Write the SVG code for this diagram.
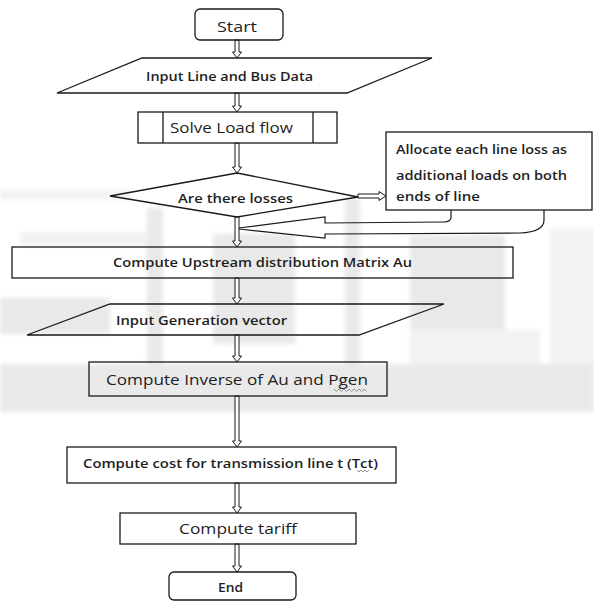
<svg xmlns="http://www.w3.org/2000/svg" width="594" height="602" viewBox="0 0 594 602">
<defs>
<filter id="soft" x="-5%" y="-5%" width="110%" height="110%"><feGaussianBlur stdDeviation="2"/></filter>
</defs>
<style>
.wm{fill:#e9e9e9}
.wm2{fill:#f2f2f2}
.sh{fill:none;stroke:#1a1a1a;stroke-width:1.3}
.shw{fill:#fff;stroke:#1a1a1a;stroke-width:1.3}
.ar{fill:#fff;stroke:#1a1a1a;stroke-width:1}
.ln{fill:none;stroke:#1a1a1a;stroke-width:1.2}
text{font-family:"Open Sans","Noto Sans","Liberation Sans",sans-serif;fill:#1e1e1e;font-weight:600}
.s12{font-size:12px}
.s14{font-size:14px;font-weight:500}
.sq{fill:none;stroke:#8a8a8a;stroke-width:0.9}
</style>
<rect width="594" height="602" fill="#fff"/>
<g id="watermark" filter="url(#soft)">
<rect class="wm2" x="0" y="190" width="130" height="10"/>
<rect class="wm2" x="20" y="232" width="130" height="14"/>
<rect class="wm" x="0" y="298" width="110" height="36"/>
<rect class="wm" x="147" y="208" width="16" height="200"/>
<rect class="wm" x="213" y="234" width="82" height="110"/>
<rect class="wm" x="345" y="198" width="15" height="200"/>
<rect class="wm" x="410" y="235" width="95" height="95"/>
<rect class="wm2" x="410" y="330" width="130" height="45"/>
<rect class="wm2" x="550" y="228" width="44" height="160"/>
<rect class="wm" x="0" y="364" width="594" height="48"/>
</g>
<g id="connectors">
<path class="ar" d="M235,40 V52 H232.5 L237,58 L241.5,52 H239 V40 Z"/>
<path class="ar" d="M235,93 V106 H232.5 L237,112 L241.5,106 H239 V93 Z"/>
<path class="ar" d="M235,143 V167 H232.5 L237,173 L241.5,167 H239 V143 Z"/>
<path class="ar" d="M235,217 V241 H232.5 L237,247 L241.5,241 H239 V217 Z"/>
<path class="ar" d="M235,278 V298 H232.5 L237,304 L241.5,298 H239 V278 Z"/>
<path class="ar" d="M235,335 V356 H232.5 L237,362 L241.5,356 H239 V335 Z"/>
<path class="ar" d="M235,396 V441 H232.5 L237,447 L241.5,441 H239 V396 Z"/>
<path class="ar" d="M235,483 V507 H232.5 L237,513 L241.5,507 H239 V483 Z"/>
<path class="ar" d="M235,544 V566 H232.5 L237,572 L241.5,566 H239 V544 Z"/>
<path class="ar" d="M358,194 H379 V191.5 L386,196 L379,200.5 V198 H358 Z"/>
<path class="ln" d="M451,210 V217 Q451,222 444,222 L325,223 L325,217 L239,228"/>
<path class="ln" d="M544,210 V220 Q544,232 520,233 L325,234 L325,238 L239,229"/>
</g>
<g id="start">
<rect class="sh" x="195" y="9" width="88" height="31" rx="5"/>
<text class="s14" x="237" y="32" text-anchor="middle" textLength="40" lengthAdjust="spacingAndGlyphs">Start</text>
</g>
<g id="input-line">
<path class="sh" d="M142,58 H432 L347,93 H57 Z"/>
<text class="s12" x="229.5" y="80.5" text-anchor="middle" textLength="167" lengthAdjust="spacingAndGlyphs">Input Line and Bus Data</text>
</g>
<g id="solve">
<rect class="sh" x="138" y="112" width="199" height="31"/>
<line class="sh" x1="163" y1="112" x2="163" y2="143"/>
<line class="sh" x1="313" y1="112" x2="313" y2="143"/>
<text class="s14" x="231.5" y="133" text-anchor="middle" textLength="123" lengthAdjust="spacingAndGlyphs">Solve Load flow</text>
</g>
<g id="decision">
<path class="sh" d="M237,173 L358,197 L237,217 L110,196 Z"/>
<text class="s12" x="235.5" y="202.5" text-anchor="middle" textLength="115" lengthAdjust="spacingAndGlyphs">Are there losses</text>
</g>
<g id="allocate">
<rect class="shw" x="386" y="132" width="206" height="78"/>
<text class="s12" x="396" y="153.5" textLength="171" lengthAdjust="spacingAndGlyphs">Allocate each line loss as</text>
<text class="s12" x="396" y="179.5" textLength="171" lengthAdjust="spacingAndGlyphs">additional loads on both</text>
<text class="s12" x="396" y="200.5" textLength="84" lengthAdjust="spacingAndGlyphs">ends of line</text>
</g>
<g id="upstream">
<rect class="sh" x="12" y="247" width="501" height="31"/>
<text class="s12" x="262.5" y="266.5" text-anchor="middle" textLength="299" lengthAdjust="spacingAndGlyphs">Compute Upstream distribution Matrix Au</text>
</g>
<g id="input-gen">
<path class="sh" d="M110,304 H444 L359,335 H27 Z"/>
<text class="s12" x="201.5" y="324.5" text-anchor="middle" textLength="171" lengthAdjust="spacingAndGlyphs">Input Generation vector</text>
</g>
<g id="inverse">
<rect class="sh" x="89" y="362" width="298" height="34"/>
<text class="s14" x="237" y="384.5" text-anchor="middle" textLength="262" lengthAdjust="spacingAndGlyphs">Compute Inverse of Au and Pgen</text>
<path class="sq" d="M334,389 l2.5,2.5 l2.5,-2.5 l2.5,2.5 l2.5,-2.5 l2.5,2.5 l2.5,-2.5 l2.5,2.5 l2.5,-2.5 l2.5,2.5 l2.5,-2.5 l2.5,2.5 l2.5,-2.5 l2.5,2.5"/>
</g>
<g id="cost">
<rect class="sh" x="67" y="447" width="329" height="36"/>
<text class="s12" x="230.5" y="467.5" text-anchor="middle" textLength="295" lengthAdjust="spacingAndGlyphs">Compute cost for transmission line t (Tct)</text>
<path class="sq" d="M357,470 l2,2 l2,-2 l2,2 l2,-2 l2,2 l2,-2"/>
</g>
<g id="tariff">
<rect class="sh" x="120" y="513" width="236" height="31"/>
<text class="s14" x="238" y="534" text-anchor="middle" textLength="118" lengthAdjust="spacingAndGlyphs">Compute tariff</text>
</g>
<g id="end">
<rect class="sh" x="169" y="572" width="127" height="28" rx="5"/>
<text class="s12" x="230.5" y="592" text-anchor="middle" textLength="25" lengthAdjust="spacingAndGlyphs">End</text>
</g>
</svg>
